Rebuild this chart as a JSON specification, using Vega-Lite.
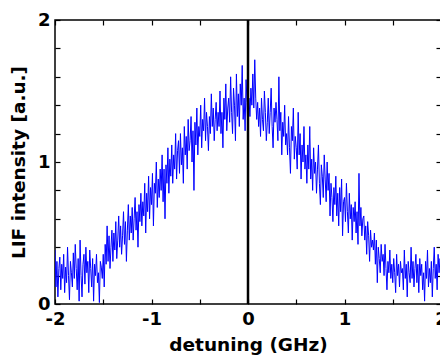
{
  "$schema": "https://vega.github.io/schema/vega-lite/v6.json",
  "width": 386,
  "height": 284,
  "autosize": {"type": "none"},
  "padding": {"left": 55, "top": 20, "right": 0, "bottom": 54},
  "background": "white",
  "config": {
    "view": {"stroke": "#000", "strokeWidth": 1.5},
    "axis": {
      "domain": false,
      "grid": false,
      "labelFont": "DejaVu Sans",
      "labelFontWeight": "bold",
      "labelFontSize": 18,
      "labelColor": "#000",
      "titleFont": "DejaVu Sans",
      "titleFontWeight": "bold",
      "titleFontSize": 18.5,
      "titleColor": "#000",
      "tickColor": "#000",
      "tickWidth": 1.2,
      "tickSize": -5
    }
  },
  "data": {"values": [
{"x":-2.00,"y":0.38},{"x":-1.99,"y":0.12},{"x":-1.98,"y":0.30},{"x":-1.97,"y":0.05},{"x":-1.96,"y":0.25},{"x":-1.95,"y":0.33},{"x":-1.94,"y":0.10},{"x":-1.93,"y":0.28},{"x":-1.92,"y":0.18},{"x":-1.91,"y":0.35},
{"x":-1.90,"y":0.08},{"x":-1.89,"y":0.26},{"x":-1.88,"y":0.15},{"x":-1.87,"y":0.40},{"x":-1.86,"y":0.20},{"x":-1.85,"y":0.03},{"x":-1.84,"y":0.30},{"x":-1.83,"y":0.22},{"x":-1.82,"y":0.12},{"x":-1.81,"y":0.36},
{"x":-1.80,"y":0.18},{"x":-1.79,"y":0.42},{"x":-1.78,"y":0.25},{"x":-1.77,"y":0.10},{"x":-1.76,"y":0.32},{"x":-1.75,"y":0.02},{"x":-1.74,"y":0.45},{"x":-1.73,"y":0.20},{"x":-1.72,"y":0.05},{"x":-1.71,"y":0.28},
{"x":-1.70,"y":0.35},{"x":-1.69,"y":0.14},{"x":-1.68,"y":0.40},{"x":-1.67,"y":0.22},{"x":-1.66,"y":0.30},{"x":-1.65,"y":0.08},{"x":-1.64,"y":0.38},{"x":-1.63,"y":0.25},{"x":-1.62,"y":0.12},{"x":-1.61,"y":0.32},
{"x":-1.60,"y":0.02},{"x":-1.59,"y":0.28},{"x":-1.58,"y":0.20},{"x":-1.57,"y":0.35},{"x":-1.56,"y":0.15},{"x":-1.55,"y":0.22},{"x":-1.54,"y":0.01},{"x":-1.53,"y":0.30},{"x":-1.52,"y":0.26},{"x":-1.51,"y":0.18},
{"x":-1.50,"y":0.35},{"x":-1.49,"y":0.12},{"x":-1.48,"y":0.42},{"x":-1.47,"y":0.28},{"x":-1.46,"y":0.55},{"x":-1.45,"y":0.30},{"x":-1.44,"y":0.48},{"x":-1.43,"y":0.25},{"x":-1.42,"y":0.40},{"x":-1.41,"y":0.52},
{"x":-1.40,"y":0.30},{"x":-1.39,"y":0.50},{"x":-1.38,"y":0.38},{"x":-1.37,"y":0.58},{"x":-1.36,"y":0.32},{"x":-1.35,"y":0.45},{"x":-1.34,"y":0.62},{"x":-1.33,"y":0.40},{"x":-1.32,"y":0.55},{"x":-1.31,"y":0.35},
{"x":-1.30,"y":0.48},{"x":-1.29,"y":0.65},{"x":-1.28,"y":0.42},{"x":-1.27,"y":0.58},{"x":-1.26,"y":0.30},{"x":-1.25,"y":0.52},{"x":-1.24,"y":0.70},{"x":-1.23,"y":0.45},{"x":-1.22,"y":0.62},{"x":-1.21,"y":0.50},
{"x":-1.20,"y":0.68},{"x":-1.19,"y":0.45},{"x":-1.18,"y":0.60},{"x":-1.17,"y":0.75},{"x":-1.16,"y":0.52},{"x":-1.15,"y":0.65},{"x":-1.14,"y":0.40},{"x":-1.13,"y":0.70},{"x":-1.12,"y":0.58},{"x":-1.11,"y":0.78},
{"x":-1.10,"y":0.55},{"x":-1.09,"y":0.72},{"x":-1.08,"y":0.62},{"x":-1.07,"y":0.85},{"x":-1.06,"y":0.50},{"x":-1.05,"y":0.78},{"x":-1.04,"y":0.65},{"x":-1.03,"y":0.90},{"x":-1.02,"y":0.60},{"x":-1.01,"y":0.82},
{"x":-1.00,"y":0.70},{"x":-0.99,"y":0.92},{"x":-0.98,"y":0.55},{"x":-0.97,"y":0.85},{"x":-0.96,"y":0.78},{"x":-0.95,"y":1.00},{"x":-0.94,"y":0.68},{"x":-0.93,"y":0.88},{"x":-0.92,"y":0.75},{"x":-0.91,"y":0.95},
{"x":-0.90,"y":0.80},{"x":-0.89,"y":1.05},{"x":-0.88,"y":0.72},{"x":-0.87,"y":0.95},{"x":-0.86,"y":0.60},{"x":-0.85,"y":0.98},{"x":-0.84,"y":0.85},{"x":-0.83,"y":1.10},{"x":-0.82,"y":0.78},{"x":-0.81,"y":1.02},
{"x":-0.80,"y":0.90},{"x":-0.79,"y":1.12},{"x":-0.78,"y":0.85},{"x":-0.77,"y":1.05},{"x":-0.76,"y":0.95},{"x":-0.75,"y":1.20},{"x":-0.74,"y":0.88},{"x":-0.73,"y":1.08},{"x":-0.72,"y":1.15},{"x":-0.71,"y":0.92},
{"x":-0.70,"y":1.20},{"x":-0.69,"y":0.98},{"x":-0.68,"y":1.10},{"x":-0.67,"y":0.85},{"x":-0.66,"y":1.25},{"x":-0.65,"y":1.05},{"x":-0.64,"y":1.18},{"x":-0.63,"y":0.95},{"x":-0.62,"y":1.30},{"x":-0.61,"y":1.08},
{"x":-0.60,"y":1.15},{"x":-0.59,"y":1.32},{"x":-0.58,"y":1.00},{"x":-0.57,"y":1.22},{"x":-0.56,"y":0.80},{"x":-0.55,"y":1.28},{"x":-0.54,"y":1.12},{"x":-0.53,"y":1.38},{"x":-0.52,"y":1.05},{"x":-0.51,"y":1.25},
{"x":-0.50,"y":1.18},{"x":-0.49,"y":1.40},{"x":-0.48,"y":1.10},{"x":-0.47,"y":1.30},{"x":-0.46,"y":1.22},{"x":-0.45,"y":1.45},{"x":-0.44,"y":1.15},{"x":-0.43,"y":1.35},{"x":-0.42,"y":1.25},{"x":-0.41,"y":1.08},
{"x":-0.40,"y":1.32},{"x":-0.39,"y":1.20},{"x":-0.38,"y":1.48},{"x":-0.37,"y":1.25},{"x":-0.36,"y":1.38},{"x":-0.35,"y":1.15},{"x":-0.34,"y":1.30},{"x":-0.33,"y":1.42},{"x":-0.32,"y":1.22},{"x":-0.31,"y":1.35},
{"x":-0.30,"y":1.25},{"x":-0.29,"y":1.50},{"x":-0.28,"y":1.20},{"x":-0.27,"y":1.35},{"x":-0.26,"y":1.10},{"x":-0.25,"y":1.45},{"x":-0.24,"y":1.30},{"x":-0.23,"y":1.55},{"x":-0.22,"y":1.22},{"x":-0.21,"y":1.38},
{"x":-0.20,"y":1.45},{"x":-0.19,"y":1.28},{"x":-0.18,"y":1.60},{"x":-0.17,"y":1.35},{"x":-0.16,"y":1.20},{"x":-0.15,"y":1.52},{"x":-0.14,"y":1.40},{"x":-0.13,"y":1.15},{"x":-0.12,"y":1.62},{"x":-0.11,"y":1.32},
{"x":-0.10,"y":1.48},{"x":-0.09,"y":1.25},{"x":-0.08,"y":1.55},{"x":-0.07,"y":1.40},{"x":-0.06,"y":1.68},{"x":-0.05,"y":1.30},{"x":-0.04,"y":1.45},{"x":-0.03,"y":1.22},{"x":-0.02,"y":1.58},{"x":-0.01,"y":1.42},
{"x":0.00,"y":1.20},{"x":0.01,"y":1.45},{"x":0.02,"y":1.32},{"x":0.03,"y":1.52},{"x":0.04,"y":1.40},{"x":0.05,"y":1.62},{"x":0.06,"y":1.38},{"x":0.07,"y":1.72},{"x":0.08,"y":1.45},{"x":0.09,"y":1.30},
{"x":0.10,"y":1.42},{"x":0.11,"y":1.25},{"x":0.12,"y":1.38},{"x":0.13,"y":1.18},{"x":0.14,"y":1.45},{"x":0.15,"y":1.30},{"x":0.16,"y":1.22},{"x":0.17,"y":1.50},{"x":0.18,"y":1.35},{"x":0.19,"y":1.15},
{"x":0.20,"y":1.28},{"x":0.21,"y":1.45},{"x":0.22,"y":1.20},{"x":0.23,"y":1.35},{"x":0.24,"y":1.52},{"x":0.25,"y":1.25},{"x":0.26,"y":1.10},{"x":0.27,"y":1.38},{"x":0.28,"y":1.28},{"x":0.29,"y":1.42},
{"x":0.30,"y":1.30},{"x":0.31,"y":1.15},{"x":0.32,"y":1.60},{"x":0.33,"y":1.22},{"x":0.34,"y":1.35},{"x":0.35,"y":1.05},{"x":0.36,"y":1.28},{"x":0.37,"y":1.18},{"x":0.38,"y":1.40},{"x":0.39,"y":1.12},
{"x":0.40,"y":1.20},{"x":0.41,"y":1.05},{"x":0.42,"y":1.32},{"x":0.43,"y":1.10},{"x":0.44,"y":0.92},{"x":0.45,"y":1.25},{"x":0.46,"y":1.15},{"x":0.47,"y":1.38},{"x":0.48,"y":1.02},{"x":0.49,"y":1.18},
{"x":0.50,"y":1.10},{"x":0.51,"y":0.95},{"x":0.52,"y":1.35},{"x":0.53,"y":1.05},{"x":0.54,"y":1.20},{"x":0.55,"y":0.88},{"x":0.56,"y":1.12},{"x":0.57,"y":1.00},{"x":0.58,"y":1.25},{"x":0.59,"y":0.95},
{"x":0.60,"y":1.05},{"x":0.61,"y":0.85},{"x":0.62,"y":1.12},{"x":0.63,"y":0.95},{"x":0.64,"y":1.25},{"x":0.65,"y":0.88},{"x":0.66,"y":1.02},{"x":0.67,"y":0.80},{"x":0.68,"y":1.10},{"x":0.69,"y":0.92},
{"x":0.70,"y":1.00},{"x":0.71,"y":0.78},{"x":0.72,"y":0.95},{"x":0.73,"y":1.12},{"x":0.74,"y":0.85},{"x":0.75,"y":0.70},{"x":0.76,"y":0.98},{"x":0.77,"y":0.90},{"x":0.78,"y":0.75},{"x":0.79,"y":1.05},
{"x":0.80,"y":0.88},{"x":0.81,"y":0.72},{"x":0.82,"y":1.00},{"x":0.83,"y":0.80},{"x":0.84,"y":0.92},{"x":0.85,"y":0.62},{"x":0.86,"y":0.85},{"x":0.87,"y":0.75},{"x":0.88,"y":0.58},{"x":0.89,"y":0.82},
{"x":0.90,"y":0.70},{"x":0.91,"y":0.90},{"x":0.92,"y":0.62},{"x":0.93,"y":0.78},{"x":0.94,"y":0.55},{"x":0.95,"y":0.82},{"x":0.96,"y":0.65},{"x":0.97,"y":0.88},{"x":0.98,"y":0.48},{"x":0.99,"y":0.72},
{"x":1.00,"y":0.75},{"x":1.01,"y":0.58},{"x":1.02,"y":0.85},{"x":1.03,"y":0.65},{"x":1.04,"y":0.50},{"x":1.05,"y":0.78},{"x":1.06,"y":0.60},{"x":1.07,"y":0.70},{"x":1.08,"y":0.45},{"x":1.09,"y":0.68},
{"x":1.10,"y":0.58},{"x":1.11,"y":0.72},{"x":1.12,"y":0.50},{"x":1.13,"y":0.65},{"x":1.14,"y":0.42},{"x":1.15,"y":0.92},{"x":1.16,"y":0.55},{"x":1.17,"y":0.68},{"x":1.18,"y":0.48},{"x":1.19,"y":0.60},
{"x":1.20,"y":0.62},{"x":1.21,"y":0.45},{"x":1.22,"y":0.55},{"x":1.23,"y":0.35},{"x":1.24,"y":0.58},{"x":1.25,"y":0.48},{"x":1.26,"y":0.30},{"x":1.27,"y":0.52},{"x":1.28,"y":0.40},{"x":1.29,"y":0.45},
{"x":1.30,"y":0.38},{"x":1.31,"y":0.50},{"x":1.32,"y":0.28},{"x":1.33,"y":0.45},{"x":1.34,"y":0.15},{"x":1.35,"y":0.40},{"x":1.36,"y":0.32},{"x":1.37,"y":0.22},{"x":1.38,"y":0.42},{"x":1.39,"y":0.30},
{"x":1.40,"y":0.35},{"x":1.41,"y":0.20},{"x":1.42,"y":0.42},{"x":1.43,"y":0.25},{"x":1.44,"y":0.10},{"x":1.45,"y":0.30},{"x":1.46,"y":0.22},{"x":1.47,"y":0.38},{"x":1.48,"y":0.18},{"x":1.49,"y":0.28},
{"x":1.50,"y":0.15},{"x":1.51,"y":0.32},{"x":1.52,"y":0.22},{"x":1.53,"y":0.08},{"x":1.54,"y":0.35},{"x":1.55,"y":0.20},{"x":1.56,"y":0.28},{"x":1.57,"y":0.12},{"x":1.58,"y":0.30},{"x":1.59,"y":0.22},
{"x":1.60,"y":0.25},{"x":1.61,"y":0.10},{"x":1.62,"y":0.38},{"x":1.63,"y":0.18},{"x":1.64,"y":0.28},{"x":1.65,"y":0.05},{"x":1.66,"y":0.30},{"x":1.67,"y":0.22},{"x":1.68,"y":0.15},{"x":1.69,"y":0.40},
{"x":1.70,"y":0.18},{"x":1.71,"y":0.30},{"x":1.72,"y":0.12},{"x":1.73,"y":0.25},{"x":1.74,"y":0.35},{"x":1.75,"y":0.15},{"x":1.76,"y":0.28},{"x":1.77,"y":0.08},{"x":1.78,"y":0.32},{"x":1.79,"y":0.20},
{"x":1.80,"y":0.28},{"x":1.81,"y":0.10},{"x":1.82,"y":0.22},{"x":1.83,"y":0.02},{"x":1.84,"y":0.30},{"x":1.85,"y":0.18},{"x":1.86,"y":0.38},{"x":1.87,"y":0.12},{"x":1.88,"y":0.25},{"x":1.89,"y":0.15},
{"x":1.90,"y":0.30},{"x":1.91,"y":0.05},{"x":1.92,"y":0.25},{"x":1.93,"y":0.40},{"x":1.94,"y":0.18},{"x":1.95,"y":0.28},{"x":1.96,"y":0.10},{"x":1.97,"y":0.35},{"x":1.98,"y":0.22},{"x":1.99,"y":0.32},
{"x":2.00,"y":0.20}
  ]},
  "layer": [
    {
      "mark": {"type": "line", "color": "#0000ff", "strokeWidth": 1, "clip": true},
      "encoding": {
        "x": {"field": "x", "type": "quantitative", "scale": {"domain": [-2, 2], "nice": false},
          "axis": {"orient": "bottom", "title": "detuning (GHz)", "values": [-2, -1.5, -1, -0.5, 0, 0.5, 1, 1.5, 2],
            "labelExpr": "datum.value == -2 ? '-2' : datum.value == -1 ? '-1' : datum.value == 0 ? '0' : datum.value == 1 ? '1' : datum.value == 2 ? '2' : ''",
            "labelPadding": 11, "titlePadding": 7, "labelFlush": false, "labelOverlap": false}},
        "y": {"field": "y", "type": "quantitative", "scale": {"domain": [0, 2], "nice": false},
          "axis": {"orient": "left", "title": "LIF intensity [a.u.]", "values": [0, 0.2, 0.4, 0.6, 0.8, 1, 1.2, 1.4, 1.6, 1.8, 2],
            "labelExpr": "datum.value == 0 ? '0' : datum.value == 1 ? '1' : datum.value == 2 ? '2' : ''",
            "labelPadding": 10, "titlePadding": 9, "labelFlush": false, "labelOverlap": false}}
      }
    },
    {
      "mark": {"type": "line", "opacity": 0},
      "encoding": {
        "x": {"field": "x", "type": "quantitative",
          "axis": {"orient": "top", "title": null, "labels": false, "values": [-2, -1.5, -1, -0.5, 0, 0.5, 1, 1.5, 2]}},
        "y": {"field": "y", "type": "quantitative",
          "axis": {"orient": "right", "title": null, "labels": false, "values": [0, 0.2, 0.4, 0.6, 0.8, 1, 1.2, 1.4, 1.6, 1.8, 2]}}
      }
    },
    {
      "data": {"values": [{"x": 0}]},
      "mark": {"type": "rule", "color": "#000", "strokeWidth": 2.5},
      "encoding": {
        "x": {"field": "x", "type": "quantitative", "axis": null}
      }
    }
  ],
  "resolve": {"axis": {"x": "independent", "y": "independent"}}
}
